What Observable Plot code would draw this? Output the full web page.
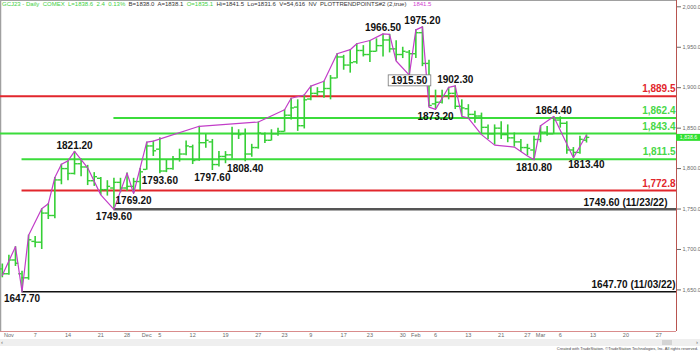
<!DOCTYPE html>
<html><head><meta charset="utf-8">
<script src="https://cdn.jsdelivr.net/npm/d3@7"></script>
<script src="https://cdn.jsdelivr.net/npm/@observablehq/plot@0.6"></script>
<style>
body{margin:0;background:#fff;}
#wrap{position:relative;width:700px;height:351px;overflow:hidden;font-family:"Liberation Sans",Arial,sans-serif;background:#fff;}
#hdr{position:absolute;left:2px;top:1px;font-size:6px;white-space:pre;color:#333;line-height:7px;}
#hdr .g{color:#3fcf3f;} #hdr .m{color:#d040d0;}
#scroll{position:absolute;left:0;top:339px;width:700px;height:7px;background:#efefef;}
#handle{position:absolute;left:662px;top:1px;width:10px;height:5px;background:#d4d4d4;}
.arr{position:absolute;top:0;font-size:6px;line-height:7px;color:#666;}
#foot{position:absolute;right:2px;top:346px;font-size:4px;line-height:5px;color:#444;white-space:nowrap;}
</style></head><body>
<div id="wrap">
<div id="chart"></div>
<div id="hdr"><span class="g">GCJ23 - Daily  COMEX  L=1838.6  2.4  0.13%</span>  B=1838.0  A=1838.1  <span class="g">O=1835.1</span>  Hi=1841.5  Lo=1831.6  V=54,616  NV  PLOTTRENDPOINTS#2 (2,true)    <span class="m">1841.5</span></div>
<div id="scroll"><div class="arr" style="left:1px">&lsaquo;</div><div id="handle"></div><div class="arr" style="right:2px">&rsaquo;</div></div>
<div id="foot">Created with TradeStation. ©TradeStation Technologies, Inc. All rights reserved.</div>
</div>
<script>
// Trading sessions (bars Oct 31 – Mar 10, then future sessions shown on the axis)
const sessions = [
"2022-10-31",
"2022-11-01","2022-11-02","2022-11-03","2022-11-04","2022-11-07","2022-11-08","2022-11-09","2022-11-10","2022-11-11","2022-11-14","2022-11-15","2022-11-16","2022-11-17","2022-11-18","2022-11-21","2022-11-22","2022-11-23","2022-11-25","2022-11-28","2022-11-29","2022-11-30",
"2022-12-01","2022-12-02","2022-12-05","2022-12-06","2022-12-07","2022-12-08","2022-12-09","2022-12-12","2022-12-13","2022-12-14","2022-12-15","2022-12-16","2022-12-19","2022-12-20","2022-12-21","2022-12-22","2022-12-23","2022-12-27","2022-12-28","2022-12-29","2022-12-30",
"2023-01-03","2023-01-04","2023-01-05","2023-01-06","2023-01-09","2023-01-10","2023-01-11","2023-01-12","2023-01-13","2023-01-17","2023-01-18","2023-01-19","2023-01-20","2023-01-23","2023-01-24","2023-01-25","2023-01-26","2023-01-27","2023-01-30","2023-01-31",
"2023-02-01","2023-02-02","2023-02-03","2023-02-06","2023-02-07","2023-02-08","2023-02-09","2023-02-10","2023-02-13","2023-02-14","2023-02-15","2023-02-16","2023-02-17","2023-02-21","2023-02-22","2023-02-23","2023-02-24","2023-02-27","2023-02-28",
"2023-03-01","2023-03-02","2023-03-03","2023-03-06","2023-03-07","2023-03-08","2023-03-09","2023-03-10",
"2023-03-13","2023-03-14","2023-03-15","2023-03-16","2023-03-17","2023-03-20","2023-03-21","2023-03-22","2023-03-23","2023-03-24","2023-03-27","2023-03-28","2023-03-29","2023-03-30","2023-03-31"
];

const opens = [1676,1670,1687,1670,1665,1710,1709,1745,1742,1786,1800,1794,1806,1802,1785,1788,1774,1776,1783,1776,1778,1784,
1799,1828,1824,1797,1800,1812,1818,1827,1811,1832,1833,1805,1815,1817,1843,1843,1818,1826,1843,1835,1843,
1846,1866,1876,1853,1886,1893,1895,1899,1912,1938,1928,1932,1946,1941,1945,1952,1959,1948,1941,1944,
1942,1968,1930,1880,1882,1890,1893,1877,1874,1867,1865,1851,1843,1850,1842,1838,1833,1826,1823,
1836,1845,1843,1860,1856,1823,1820,1835.1];
const highs = [1682,1693,1703.5,1673,1717.7,1716,1750.3,1756.5,1789,1805.4,1809.5,1821.2,1812,1804,1795,1789,1785,1788,1788,1794.4,1788,1800,
1832.7,1834,1838,1810,1815,1824,1834,1829,1852.3,1842,1836,1821,1821,1851,1848,1849,1830,1857.6,1844,1848,1850,
1872.7,1887,1885,1891,1902,1900,1908,1915,1942,1940,1947,1954.3,1952,1958.4,1960.4,1966.5,1966,1958,1950,1946,
1971.5,1975.2,1934,1897,1897,1900.5,1902.3,1885,1879,1871,1868.6,1854,1854,1858,1854,1844,1836,1830,1840,
1853,1852,1864.4,1864,1858,1826,1840,1841.5];
const lows = [1665,1668,1679,1647.7,1662,1702,1700,1737,1738,1780,1785,1792,1790,1779,1778,1767,1766,1749.6,1770,1772,1769.2,1773,
1798,1815,1793.6,1795,1798,1808,1816,1805,1809,1825,1797.6,1802,1806,1812,1836,1808.4,1814,1824,1831,1834,1840,
1845,1860,1846,1849,1884,1889,1887,1885,1911,1921.6,1918,1929,1938,1931,1944,1938,1943,1933,1936,1915.5,
1936,1926,1876,1873.2,1880,1885,1873,1864.6,1862.5,1856,1842,1836,1829,1836,1832,1826.6,1820,1815.6,1810.8,
1832,1840,1842,1850,1817.6,1813.4,1817.6,1831.6];
const closes = [1670,1687,1683,1665,1712,1709,1745,1742,1786,1800,1794,1806,1802,1785,1790,1774,1778,1783,1776,1778,1784,1796,
1828,1822,1797,1800,1812,1818,1828,1810,1832,1835,1805,1815,1817,1843,1842,1818,1826,1844,1835,1843,1846,
1866,1875,1853,1885,1893,1895,1899,1912,1938,1928,1931,1946,1941,1945,1952,1959,1948,1941,1945,1942,
1968,1930,1878,1882,1890,1893,1877,1875,1867,1865,1851,1843,1850,1842,1838,1833,1826,1825,1836,
1845,1843,1860,1856,1823,1820,1836.2,1838.6];

// PLOTTRENDPOINTS zig-zag
const trendDates = ["2022-10-31","2022-11-02","2022-11-03","2022-11-04","2022-11-08","2022-11-09","2022-11-10","2022-11-11","2022-11-14","2022-11-15","2022-11-17","2022-11-21","2022-11-23","2022-11-28","2022-11-29","2022-12-01","2022-12-02","2022-12-13","2022-12-27","2023-01-03","2023-01-04","2023-01-06","2023-01-09","2023-01-11","2023-01-13","2023-01-18","2023-01-19","2023-01-23","2023-01-25","2023-01-26","2023-01-27","2023-01-31","2023-02-01","2023-02-02","2023-02-03","2023-02-06","2023-02-08","2023-02-09","2023-02-10","2023-02-13","2023-02-15","2023-02-17","2023-02-23","2023-02-27","2023-02-28","2023-03-01","2023-03-03","2023-03-08","2023-03-10"];
const trendValues = [1668,1703.5,1647.7,1717.7,1750.3,1756.5,1789,1805.4,1809.5,1821.2,1801,1767.5,1749.6,1794.4,1769.2,1832.7,1834,1852.3,1857.6,1872.7,1887,1891,1902,1908,1942,1947,1954.3,1958.4,1966.5,1966,1933,1915.5,1971.5,1975.2,1876,1873.2,1900.5,1902.3,1864.6,1862.5,1842,1829,1826.6,1815.6,1810.8,1853,1864.4,1813.4,1841.5];

// Pivot labels
const pivotDates = ["2022-11-15","2023-01-25","2023-02-02","2023-02-09","2023-03-03","2022-11-03","2022-11-23","2022-11-29","2022-12-05","2022-12-15","2022-12-22","2023-01-31","2023-02-06","2023-02-28","2023-03-08"];
const pivotValues = [1821.2,1966.5,1975.2,1902.3,1864.4,1647.7,1749.6,1769.2,1793.6,1797.6,1808.4,1915.5,1873.2,1810.8,1813.4];
const pivotSides = ["high","high","high","high","high","low","low","low","low","low","low","low","low","low","low"];

// Horizontal levels
const levelValues = [1889.5,1862.4,1843.4,1811.5,1772.8];
const levelStarts = ["2022-10-31","2022-11-23","2022-10-31","2022-11-03","2022-11-03"];
const levelKinds = ["retracement","pivot","pivot","pivot","retracement"];
const swingValues = [1749.6,1647.7];
const swingDates = ["2022-11-23","2022-11-03"];
const swingLabels = ["11/23/22","11/03/22"];

// Axis ticks
const xTickDates = ["2022-11-01","2022-11-07","2022-11-14","2022-11-21","2022-11-28","2022-12-01","2022-12-05","2022-12-12","2022-12-19","2022-12-27","2023-01-03","2023-01-09","2023-01-17","2023-01-23","2023-01-30","2023-02-01","2023-02-06","2023-02-13","2023-02-21","2023-02-27","2023-03-01","2023-03-06","2023-03-13","2023-03-20","2023-03-27"];
const xTickLabels = ["Nov","7","14","21","28","Dec","5","12","19","27","23","9","17","23","30","Feb","6","13","21","27","Mar","6","13","20","27"];
const yTicks = [1650,1700,1750,1800,1850,1900,1950,2000];
const lastPrice = 1838.6;

// ---- build ----
const kOf = new Map(sessions.map((d, i) => [d, i]));
const bars = opens.map((o, i) => ({k: i, o, h: highs[i], l: lows[i], c: closes[i]}));
const trend = trendDates.map((d, i) => ({k: kOf.get(d), v: trendValues[i]}));
const pivots = pivotDates.map((d, i) => ({k: kOf.get(d), v: pivotValues[i], side: pivotSides[i], label: pivotValues[i].toFixed(2)}));
const xMin = -0.28, xMax = 102.71;
const yMin = 1598.6, yMax = 2007.8;
const levels = levelValues.map((v, i) => ({v, k: levelStarts[i] === sessions[0] ? xMin : kOf.get(levelStarts[i]), kind: levelKinds[i]}));
const swings = swingValues.map((v, i) => ({v, k: kOf.get(swingDates[i]), label: `${v.toFixed(2)} (${swingLabels[i]})`}));
const tickKs = xTickDates.map(d => kOf.get(d));
const tickLabelOf = new Map(tickKs.map((k, i) => [k, xTickLabels[i]]));

const RED = "#e2262c", GREEN_LINE = "#3bdc3b", GREEN_TXT = "#47d847", BAR = "#36cf36";
const colorOf = kind => kind === "retracement" ? RED : GREEN_LINE;
const txtColorOf = kind => kind === "retracement" ? RED : GREEN_TXT;
const fmt = d3.format(",.1f");
const FONT = "Liberation Sans, Arial, sans-serif";
const tickW = 0.5;

const plot = Plot.plot({
  width: 700, height: 351,
  marginLeft: 0, marginRight: 24, marginTop: 0, marginBottom: 20,
  style: {fontFamily: FONT, fontSize: "5.5px", color: "#6a6a6a", background: "#fff", overflow: "visible"},
  x: {type: "linear", domain: [xMin, xMax], ticks: tickKs, tickFormat: k => tickLabelOf.get(k), tickSize: 0, tickPadding: 1.5, label: null},
  y: {domain: [yMin, yMax], axis: "right", ticks: yTicks, tickFormat: fmt, tickSize: 4, tickPadding: 2, label: null},
  marks: [
    // frame lines
    Plot.ruleY([yMax], {x1: xMin, x2: xMax, stroke: "#a0a0a0", strokeWidth: 1}),
    Plot.ruleX([xMin], {y1: yMin, y2: yMax, stroke: "#a0a0a0", strokeWidth: 1.5}),
    Plot.ruleY([yMin], {x1: xMin, x2: xMax, stroke: "#d98c8c", strokeWidth: 1}),
    Plot.ruleX([xMax], {y1: yMin, y2: yMax, stroke: "#b8544f", strokeWidth: 1}),
    // levels
    Plot.ruleY(levels, {y: "v", x1: "k", x2: xMax, stroke: d => colorOf(d.kind), strokeWidth: 2}),
    Plot.ruleY(swings.slice(0, 1), {y: "v", x1: "k", x2: xMax, stroke: "#555", strokeWidth: 2.5}),
    Plot.ruleY(swings.slice(1), {y: "v", x1: "k", x2: xMax, stroke: "#111", strokeWidth: 1.5}),
    // OHLC bars
    Plot.ruleX(bars, {x: "k", y1: "l", y2: "h", stroke: BAR, strokeWidth: 1.6}),
    Plot.ruleY(bars, {y: "o", x1: d => d.k - tickW, x2: "k", stroke: BAR, strokeWidth: 1.4}),
    Plot.ruleY(bars, {y: "c", x1: "k", x2: d => d.k + tickW, stroke: BAR, strokeWidth: 1.4}),
    // zig-zag
    Plot.line(trend, {x: "k", y: "v", stroke: "#c23dc8", strokeWidth: 1.2}),
    // level labels
    Plot.text(levels, {x: xMax, y: "v", text: d => fmt(d.v), fill: d => txtColorOf(d.kind), textAnchor: "end", lineAnchor: "middle", dx: -1, dy: -7, fontSize: 10, fontWeight: "bold", fontFamily: FONT}),
    Plot.text(swings.slice(0, 1), {x: xMax, y: "v", text: "label", fill: "#111", textAnchor: "end", lineAnchor: "middle", dx: -9, dy: -7, fontSize: 10, fontWeight: "bold", fontFamily: FONT}),
    Plot.text(swings.slice(1), {x: xMax, y: "v", text: "label", fill: "#111", textAnchor: "end", lineAnchor: "middle", dx: -1, dy: -7, fontSize: 10, fontWeight: "bold", fontFamily: FONT}),
    // pivot labels
    Plot.text(pivots.filter(d => d.side === "high"), {x: "k", y: "v", text: "label", fill: "#111", lineAnchor: "middle", dy: -6, fontSize: 10, fontWeight: "bold", fontFamily: FONT}),
    Plot.text(pivots.filter(d => d.side === "low" && d.v !== 1813.4 && d.v !== 1915.5), {x: "k", y: "v", text: "label", fill: "#111", lineAnchor: "middle", dy: 7.5, fontSize: 10, fontWeight: "bold", fontFamily: FONT}),
    Plot.text(pivots.filter(d => d.v === 1813.4), {x: "k", y: "v", text: "label", fill: "#111", lineAnchor: "middle", dx: 13, dy: 7.5, fontSize: 10, fontWeight: "bold", fontFamily: FONT}),
    Plot.text(pivots.filter(d => d.v === 1915.5), {x: "k", y: "v", text: "label", fill: "#111", lineAnchor: "middle", dy: 5.5, fontSize: 10, fontWeight: "bold", fontFamily: FONT}),
    // last price marker
    Plot.ruleY([lastPrice], {x1: xMax, x2: xMax + 3.66, stroke: "#2fe02f", strokeWidth: 7}),
    Plot.text([lastPrice], {x: xMax + 1.83, y: d => d, text: d => fmt(d), fill: "#f4fff4", fontSize: 5.2, lineAnchor: "middle", fontFamily: FONT})
  ]
});
document.getElementById("chart").appendChild(plot);

// box around the 1915.50 label
plot.querySelectorAll("text").forEach(t => {
  if (t.textContent === "1915.50") {
    const b = t.getBBox();
    const r = document.createElementNS("http://www.w3.org/2000/svg", "rect");
    r.setAttribute("x", b.x - 3); r.setAttribute("y", b.y);
    r.setAttribute("width", b.width + 6); r.setAttribute("height", b.height);
    r.setAttribute("fill", "#fff"); r.setAttribute("stroke", "#777"); r.setAttribute("stroke-width", "0.8");
    if (t.getAttribute("transform")) r.setAttribute("transform", t.getAttribute("transform"));
    t.parentNode.insertBefore(r, t);
  }
});
</script>
</body></html>
